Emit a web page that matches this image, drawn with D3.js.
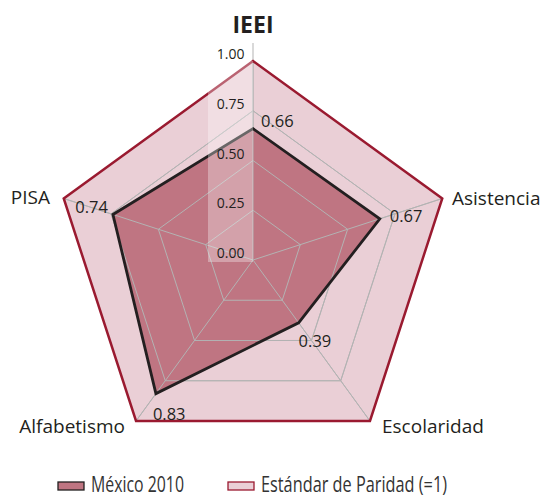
<!DOCTYPE html>
<html><head><meta charset="utf-8">
<script src="https://cdn.jsdelivr.net/npm/d3@7"></script>
<style>
html,body{margin:0;padding:0;background:#fff;}
svg{display:block;}
</style></head>
<body>
<script>
const categories = ["IEEI", "Asistencia", "Escolaridad", "Alfabetismo", "PISA"];
const mexico2010 = [0.66, 0.67, 0.39, 0.83, 0.74];
const paridad = [1, 1, 1, 1, 1];
const tickValues = [0, 0.25, 0.5, 0.75, 1];
const tickLabels = ["0.00", "0.25", "0.50", "0.75", "1.00"];
const seriesNames = ["México 2010", "Estándar de Paridad (=1)"];

const W = 542, H = 497;
const cx = 253, cy = 260, R = 199;
const svg = d3.select("body").append("svg").attr("width", W).attr("height", H);

const r = d3.scaleLinear().domain([0, 1]).range([0, R]);
const angle = d3.scalePoint().domain(categories.concat(["_end"])).range([0, 2 * Math.PI]);
const pt = (c, v) => { const a = angle(c); return [cx + r(v) * Math.sin(a), cy - r(v) * Math.cos(a)]; };
const line = d3.line().curve(d3.curveLinearClosed);

const g = svg.append("g");
g.append("path").attr("d", line(categories.map((c, i) => pt(c, paridad[i]))))
  .attr("fill", "#eacfd6").attr("stroke", "none");
const gridColor = "#b3b3b3";
function drawGrid(sel) {
  tickValues.slice(1, -1).forEach(t => {
    sel.append("path").attr("d", line(categories.map(c => pt(c, t))))
      .attr("fill", "none").attr("stroke", gridColor).attr("stroke-width", 1);
  });
  categories.forEach(c => {
    const p = pt(c, 1);
    sel.append("line").attr("x1", cx).attr("y1", cy).attr("x2", p[0]).attr("y2", p[1])
      .attr("stroke", gridColor).attr("stroke-width", 1);
  });
}
drawGrid(g);
g.append("path").attr("d", line(categories.map((c, i) => pt(c, mexico2010[i]))))
  .attr("fill", "#bf7582").attr("stroke", "none");
drawGrid(g.append("g"));
g.append("line").attr("x1", cx).attr("y1", cy - r(1)).attr("x2", cx).attr("y2", 43)
  .attr("stroke", gridColor).attr("stroke-width", 1);
g.append("path").attr("d", line(categories.map((c, i) => pt(c, paridad[i]))))
  .attr("fill", "none").attr("stroke", "#9a1a30").attr("stroke-width", 2.5);
g.append("path").attr("d", line(categories.map((c, i) => pt(c, mexico2010[i]))))
  .attr("fill", "none").attr("stroke", "#231f20").attr("stroke-width", 2.8);

g.append("rect").attr("x", 208).attr("y", cy - r(1)).attr("width", cx - 208).attr("height", r(1) + 2)
  .attr("fill", "#fff").attr("opacity", 0.32);

const font = "'Open Sans', 'DejaVu Sans', sans-serif";
tickValues.forEach((t, i) => {
  svg.append("text").attr("x", 244.5).attr("y", cy - r(t) - 2)
    .attr("text-anchor", "end").attr("font-family", font).attr("font-size", 14)
    .attr("fill", "#231f20").text(tickLabels[i]);
});

const offsets = [[8, -2, "start"], [10, 3, "start"], [0, 24, "start"], [-3, 26, "start"], [-5, -1, "end"]];
categories.forEach((c, i) => {
  const p = pt(c, mexico2010[i]);
  svg.append("text").attr("x", p[0] + offsets[i][0]).attr("y", p[1] + offsets[i][1])
    .attr("text-anchor", offsets[i][2]).attr("font-family", font).attr("font-size", 16.5)
    .attr("fill", "#231f20").text(mexico2010[i].toFixed(2));
});

const catPos = [[0, -227, "middle"], [199, -55, "start"], [129, 173, "start"], [-128, 173, "end"], [-203, -56, "end"]];
categories.forEach((c, i) => {
  const t = svg.append("text").attr("x", cx + catPos[i][0]).attr("y", cy + catPos[i][1])
    .attr("text-anchor", catPos[i][2]).attr("font-family", font)
    .attr("fill", "#231f20").text(c);
  if (i === 0) t.attr("font-size", 23).attr("font-weight", "bold");
  else t.attr("font-size", 19);
});

const legend = [
  { x: 58, fill: "#bf7582", stroke: "#231f20", len: 93 },
  { x: 228, fill: "#eacfd6", stroke: "#9a1a30", len: 186 }
];
legend.forEach((l, i) => {
  svg.append("rect").attr("x", l.x).attr("y", 482).attr("width", 26).attr("height", 8)
    .attr("fill", l.fill).attr("stroke", l.stroke).attr("stroke-width", 1.3);
  svg.append("text").attr("x", l.x + 33).attr("y", 492).attr("font-family", font)
    .attr("font-size", 22).attr("fill", "#333")
    .attr("textLength", l.len).attr("lengthAdjust", "spacingAndGlyphs").text(seriesNames[i]);
});
</script>
</body></html>
